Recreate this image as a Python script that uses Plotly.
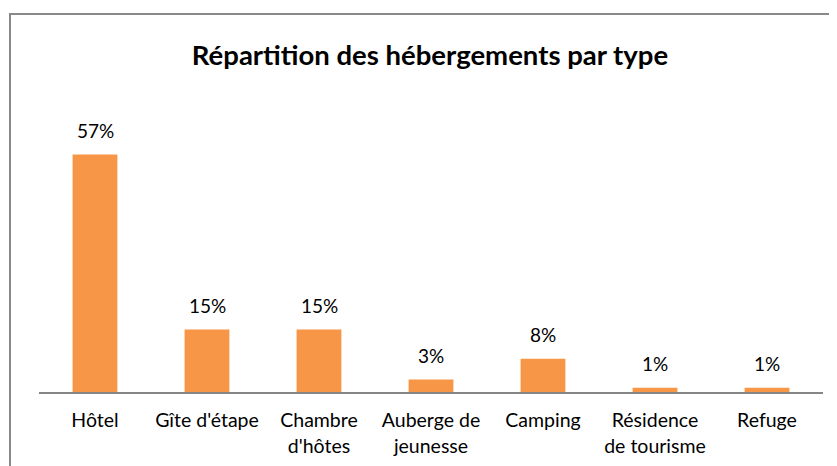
import plotly.graph_objects as go

categories = ["Hôtel", "Gîte d'étape", "Chambre<br>d'hôtes", "Auberge de<br>jeunesse", "Camping", "Résidence<br>de tourisme", "Refuge"]
values = [57, 15, 15, 3, 8, 1, 1]
labels = [f"{v}%" for v in values]
title = "Répartition des hébergements par type"

# page body has an 8px margin: the figure starts at (8, 8) in the window
OFF = 8
W, H = 837 - OFF, 466 - OFF
L, R, T, B = 39 - OFF, W - (823 - OFF), 142 - OFF, H - (392 - OFF)
pw, ph = W - L - R, H - T - B

FONT = "Lato, 'Open Sans', sans-serif"

fig = go.Figure(go.Bar(
    x=categories, y=values,
    marker=dict(color="#F79646", line=dict(width=0)),
    hoverinfo="skip",
))

for c, v, t in zip(categories, values, labels):
    fig.add_annotation(x=c, y=v, text=t, showarrow=False, yanchor="bottom",
                       yshift=11, font=dict(size=19, color="#000000", family=FONT))

fig.update_layout(
    width=W, height=H,
    margin=dict(l=L, r=R, t=T, b=B, autoexpand=False),
    paper_bgcolor="white", plot_bgcolor="white",
    bargap=0.6,
    showlegend=False,
    title=dict(text=f"<b>{title}</b>", x=(430 - OFF) / W, xanchor="center",
               y=1 - (55 - OFF) / H, yanchor="middle",
               font=dict(size=27.5, color="#000000", family=FONT)),
    xaxis=dict(showline=True, linecolor="#868686", linewidth=2, ticks="",
               tickfont=dict(size=19.5, color="#000000", family=FONT),
               ticklabelstandoff=10, automargin=False,
               showgrid=False, fixedrange=True),
    yaxis=dict(range=[0, 60], visible=False, showgrid=False, fixedrange=True,
               automargin=False),
)

fig.add_shape(type="rect", xref="paper", yref="paper",
              x0=(10 - 39) / pw, x1=(W + 20 - L) / pw,
              y0=-(H + 20 - (T + ph)) / ph, y1=1 + (142 - 14) / ph,
              line=dict(color="#898989", width=2), layer="below")

fig.write_html("out.html")
